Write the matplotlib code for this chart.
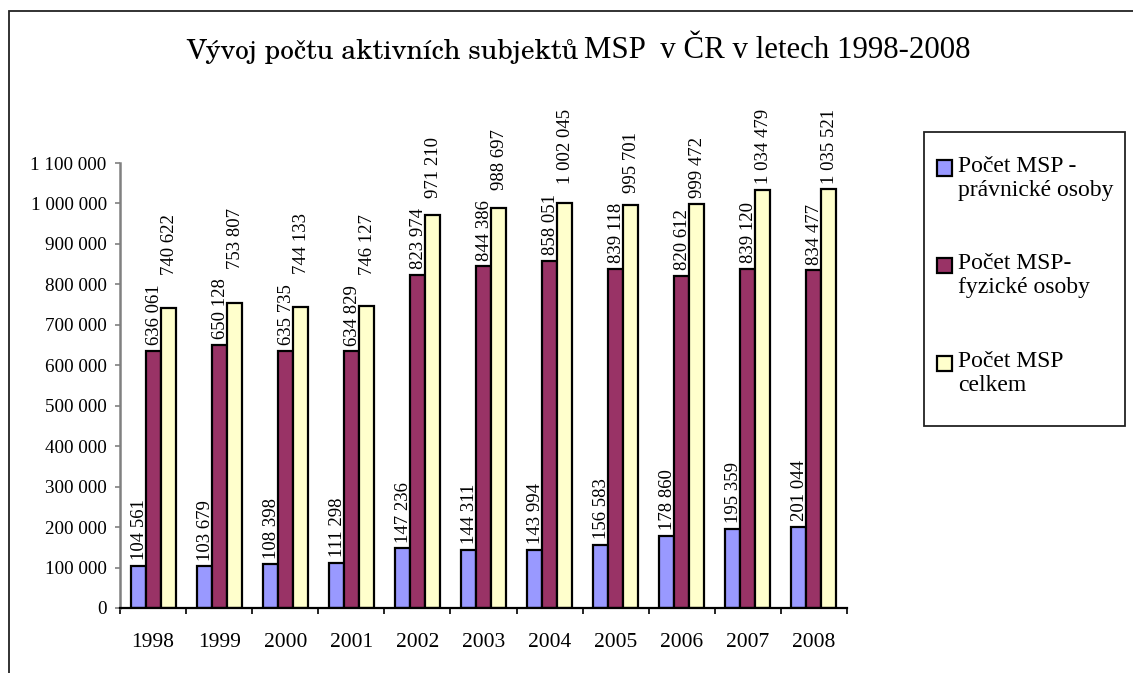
import matplotlib
matplotlib.use("Agg")
import matplotlib.pyplot as plt
from matplotlib.patches import Rectangle
from matplotlib.ticker import FuncFormatter, MultipleLocator
import numpy as np

roky = ["1998", "1999", "2000", "2001", "2002", "2003", "2004", "2005", "2006", "2007", "2008"]
pravnicke = [104561, 103679, 108398, 111298, 147236, 144311, 143994, 156583, 178860, 195359, 201044]
fyzicke = [636061, 650128, 635735, 634829, 823974, 844386, 858051, 839118, 820612, 839120, 834477]
celkem = [740622, 753807, 744133, 746127, 971210, 988697, 1002045, 995701, 999472, 1034479, 1035521]
serie = [pravnicke, fyzicke, celkem]
popisky = ["Počet MSP -\nprávnické osoby", "Počet MSP-\nfyzické osoby", "Počet MSP\ncelkem"]
barvy = ["#9999FF", "#993366", "#FFFFCC"]

W, H = 1133, 673
plt.rcParams["font.family"] = ["Liberation Serif", "DejaVu Serif"]
fig = plt.figure(figsize=(W / 100, H / 100), dpi=100)
ax = fig.add_axes([120 / W, 1 - 608 / H, (847 - 120) / W, (608 - 163) / H])

def mezery(v, pos=None):
    return f"{int(v):,}".replace(",", " ")

x = np.arange(len(roky))
sirka = 0.227
stitky = []
for i, (hodnoty, barva) in enumerate(zip(serie, barvy)):
    pos = x + (i - 1) * sirka
    ax.bar(pos, hodnoty, width=sirka, color=barva, edgecolor="black", linewidth=1.6, zorder=3)
    rada = []
    for px_, v in zip(pos, hodnoty):
        rada.append(ax.annotate(mezery(v), (px_, v), xytext=(0.7, 4), textcoords="offset points",
                                rotation=90, ha="center", va="bottom", fontsize=13.5))
    stitky.append(rada)

ax.set_xlim(-0.5, len(roky) - 0.5)
ax.set_ylim(0, 1100000)
ax.yaxis.set_major_locator(MultipleLocator(100000))
ax.yaxis.set_major_formatter(FuncFormatter(mezery))
ax.set_xticks(x)
ax.set_xticklabels(roky, fontsize=15.5)
ax.set_xticks(np.arange(-0.5, len(roky)), minor=True)
ax.tick_params(axis="x", which="major", length=0, pad=18)
ax.tick_params(axis="x", which="minor", length=4.3, width=1.2, direction="out", color="black")
ax.tick_params(axis="y", length=3.6, width=1.2, color="#808080", labelsize=13.8, pad=6)
for s in ["top", "right"]:
    ax.spines[s].set_visible(False)
ax.spines["left"].set_color("#808080")
ax.spines["left"].set_linewidth(1.8)
ax.spines["bottom"].set_color("black")
ax.spines["bottom"].set_linewidth(1.6)
ax.spines["bottom"].set_zorder(4)

# labels of neighbouring bars overlap sideways, so push them up like Excel does
fig.canvas.draw()
r = fig.canvas.get_renderer()
for i in range(1, len(stitky)):
    for j in range(len(roky)):
        dole = stitky[i - 1][j].get_window_extent(r)
        tento = stitky[i][j].get_window_extent(r)
        if tento.y0 < dole.y1 + 10:
            posun = (dole.y1 + 10 - tento.y0) * 0.72
            dx, dy = stitky[i][j].xyann
            stitky[i][j].xyann = (dx, dy + posun)

# title in two fonts like the original
fig.text(578 / W, 1 - 51 / H, "Vývoj počtu aktivních subjektů", ha="right", va="center",
         fontsize=19.7, family=["C059", "TeX Gyre Schola", "DejaVu Serif"])
fig.text(584 / W, 1 - 51 / H, "MSP  v ČR v letech 1998-2008", ha="left", va="center",
         fontsize=22.2)

# outer chart frame
fig.add_artist(Rectangle((9 / W, -0.1), 2, 1 - 11 / H + 0.1, transform=fig.transFigure,
                         fill=False, edgecolor="#222222", linewidth=1.3))

# legend box
fig.add_artist(Rectangle((924 / W, 1 - 426 / H), (1125 - 924) / W, (426 - 132) / H,
                         transform=fig.transFigure, fill=False, edgecolor="#222222", linewidth=1.3))
radky = [168, 265, 363]
for y0, text, barva in zip(radky, popisky, barvy):
    fig.add_artist(Rectangle((937 / W, 1 - (y0 + 7.5) / H), 15 / W, 15 / H,
                             transform=fig.transFigure, facecolor=barva,
                             edgecolor="black", linewidth=1.6))
    fig.text(958 / W, 1 - (y0 - 12) / H, text, ha="left", va="top", fontsize=17,
             linespacing=1.2)

fig.savefig("out.png", dpi=100)
